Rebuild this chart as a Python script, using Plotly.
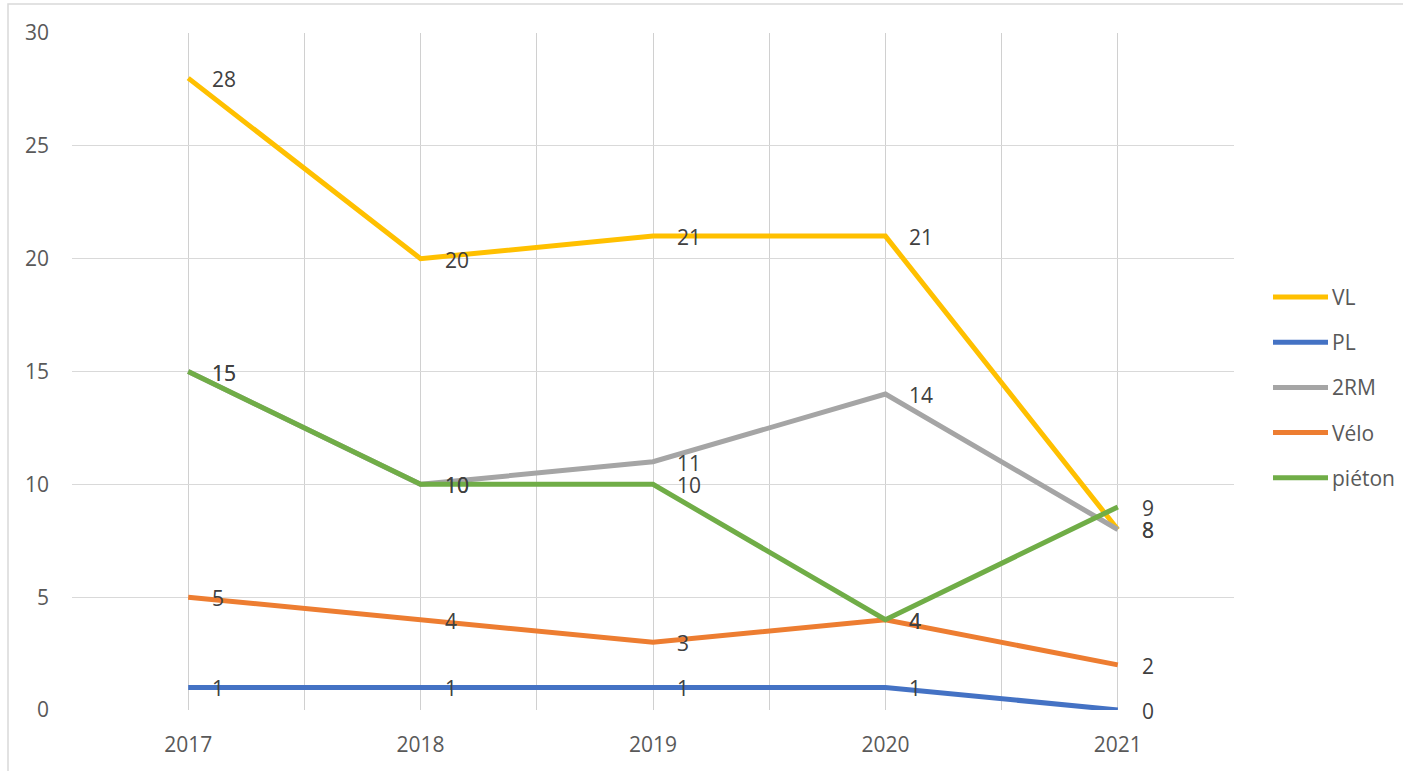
import plotly.graph_objects as go

years = [2017, 2018, 2019, 2020, 2021]
series_names = ["VL", "PL", "2RM", "Vélo", "piéton"]
vl = [28, 20, 21, 21, 8]
pl = [1, 1, 1, 1, 0]
rm2 = [15, 10, 11, 14, 8]
velo = [5, 4, 3, 4, 2]
pieton = [15, 10, 10, 4, 9]
colors = ["#FFC000", "#4472C4", "#A5A5A5", "#ED7D31", "#70AD47"]
y_ticks = [0, 5, 10, 15, 20, 25, 30]

values = [vl, pl, rm2, velo, pieton]
TXT = "#595959"
FONT = "Open Sans"
FS = 21

fig = go.Figure()
annotations = []
shapes = []
for name, vals, col in zip(series_names, values, colors):
    fig.add_trace(go.Scatter(x=years, y=vals, mode="lines", name=name,
                             line=dict(color=col, width=5), showlegend=False,
                             hoverinfo="x+y+name"))
    for xv, yv in zip(years, vals):
        annotations.append(dict(x=xv, y=yv, xref="x", yref="y", text=str(yv),
                                showarrow=False, xanchor="left", yanchor="middle",
                                xshift=22, yshift=-1,
                                font=dict(family=FONT, size=FS, color="#404040")))

# manual legend
leg_y0 = (710 - 297) / 677
leg_dy = 45.2 / 677
for i, (name, col) in enumerate(zip(series_names, colors)):
    yy = leg_y0 - i * leg_dy
    shapes.append(dict(type="line", xref="paper", yref="paper",
                       x0=(1273 - 72) / 1162, x1=(1328 - 72) / 1162, y0=yy, y1=yy,
                       line=dict(color=col, width=5)))
    annotations.append(dict(x=(1330 - 72) / 1162, y=yy, xref="paper", yref="paper",
                            text=name, showarrow=False, xanchor="left", yanchor="middle",
                            font=dict(family=FONT, size=FS, color=TXT)))

# chart border
shapes.append(dict(type="rect", xref="paper", yref="paper",
                   x0=(8 - 72) / 1162, x1=(1420 - 72) / 1162,
                   y0=(710 - 790) / 677, y1=(710 - 4) / 677,
                   line=dict(color="#D9D9D9", width=1.5), layer="below"))

fig.update_layout(
    width=1403, height=771,
    margin=dict(l=72, r=169, t=33, b=61),
    paper_bgcolor="white", plot_bgcolor="white",
    font=dict(family=FONT, size=FS, color=TXT),
    annotations=annotations, shapes=shapes,
    showlegend=False,
)
fig.update_xaxes(range=[2016.5, 2021.5], tickvals=years, ticktext=[str(y) for y in years],
                 showgrid=True, gridcolor="#D0D0D0", gridwidth=1,
                 minor=dict(tickvals=[2016.5, 2017.5, 2018.5, 2019.5, 2020.5, 2021.5],
                            showgrid=True, gridcolor="#D0D0D0", gridwidth=1),
                 showline=False, zeroline=False, ticks="", ticklabelstandoff=20,
                 tickfont=dict(family=FONT, size=FS, color=TXT))
fig.update_yaxes(range=[0, 30], tickvals=y_ticks, showgrid=True, gridcolor="#D9D9D9",
                 gridwidth=1, zeroline=False, showline=False, ticks="",
                 ticklabelstandoff=22,
                 tickfont=dict(family=FONT, size=FS, color=TXT))

fig.write_html("out.html", config={"displayModeBar": False},
               post_script="document.body.style.margin='0';document.body.style.overflow='hidden';")
